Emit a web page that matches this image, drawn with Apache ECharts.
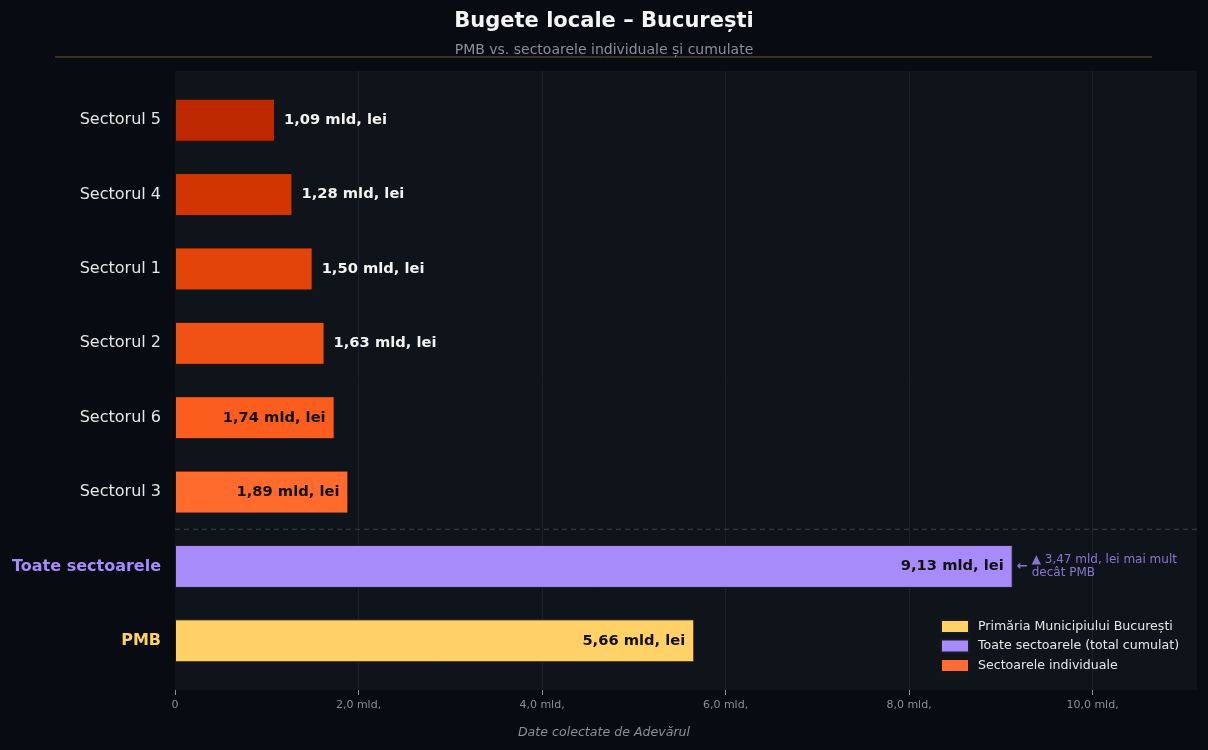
<!DOCTYPE html>
<html>
<head>
<meta charset="utf-8">
<script src="https://cdn.jsdelivr.net/npm/echarts@6/dist/echarts.min.js"></script>
<style>
  html, body { margin: 0; padding: 0; background: #080b11; }
  #chart { width: 1208px; height: 750px; }
</style>
</head>
<body>
<div id="chart"></div>
<script>
// date (mld. lei)
const sectorNames = ['Sectorul 3', 'Sectorul 6', 'Sectorul 2', 'Sectorul 1', 'Sectorul 4', 'Sectorul 5'];
const sectorValues = [1.89, 1.74, 1.63, 1.50, 1.28, 1.09];
const totalLabel = 'Toate sectoarele';
const totalValue = 9.13;
const pmbLabel = 'PMB';
const pmbValue = 5.66;
const xTicks = [0, 2, 4, 6, 8, 10];
const legendNames = ['Primăria Municipiului București', 'Toate sectoarele (total cumulat)', 'Sectoarele individuale'];

// culori
const sectorColors = ['#ff6b2c', '#fb5d1f', '#f05216', '#e3440a', '#d13602', '#be2800'];
const pmbColor = '#ffd166';
const totalColor = '#a78bfa';
const orange = '#ff6b35';
const font = 'DejaVu Sans';

const categories = [pmbLabel, totalLabel].concat(sectorNames);
const xMax = totalValue * 1.22;

function fmt(v) {
    return v.toFixed(2).replace('.', ',') + ' mld, lei';
}

let sectorData = [null, null].concat(sectorValues.map((v, i) => {
    let inside = v >= 1.7;
    return {
        value: v,
        itemStyle: { color: sectorColors[i] },
        label: {
            position: inside ? 'insideRight' : 'right',
            color: inside ? '#111111' : '#f2f2f2'
        }
    };
}));
let totalData = [null, totalValue].concat(sectorNames.map(() => null));
let pmbData = [pmbValue, null].concat(sectorNames.map(() => null));

let chart = echarts.init(document.getElementById('chart'));

let barLabel = {
    show: true,
    position: 'insideRight',
    distance: 9,
    fontFamily: font,
    fontWeight: 'bold',
    fontSize: 14.7,
    color: '#111111',
    formatter: p => fmt(p.value)
};

let option = {
    backgroundColor: '#080b11',
    textStyle: { fontFamily: font },
    title: [{
        text: 'Bugete locale – București',
        left: 'center',
        top: 6,
        textStyle: { color: '#f5f5f5', fontSize: 21, fontWeight: 'bold', fontFamily: font }
    }, {
        text: 'PMB vs. sectoarele individuale și cumulate',
        left: 'center',
        top: 38,
        textStyle: { color: '#8a8f98', fontSize: 14, fontWeight: 'normal', fontFamily: font }
    }, {
        text: 'Date colectate de Adevărul',
        left: 'center',
        top: 721,
        textStyle: { color: '#8a8f98', fontSize: 12.6, fontStyle: 'italic', fontWeight: 'normal', fontFamily: font }
    }],
    legend: {
        orient: 'vertical',
        left: 940,
        top: 619,
        padding: 0,
        itemWidth: 28,
        itemHeight: 13,
        itemGap: 4.5,
        icon: 'rect',
        textStyle: { color: '#e6e6e6', fontSize: 12.6, fontFamily: font, padding: [0, 0, 0, 4] },
        data: [
            { name: legendNames[0], itemStyle: { color: pmbColor } },
            { name: legendNames[1], itemStyle: { color: totalColor } },
            { name: legendNames[2], itemStyle: { color: orange } }
        ]
    },
    grid: [
        { left: 175, right: 11, top: 71, bottom: 60, show: true, backgroundColor: '#0f141b', borderWidth: 0 },
        { left: 175, right: 11, top: 83, bottom: 72 }
    ],
    xAxis: [{
        gridIndex: 0,
        type: 'value',
        min: 0,
        max: xMax,
        interval: 2,
        axisLine: { show: false },
        axisTick: { show: true, length: 5, lineStyle: { color: '#8a8f98' } },
        axisLabel: {
            color: '#8a8f98',
            fontSize: 11,
            margin: 10,
            showMaxLabel: false,
            formatter: v => xTicks.indexOf(v) < 0 ? '' : (v === 0 ? '0' : v.toFixed(1).replace('.', ',') + ' mld,')
        },
        splitLine: { show: true, showMinLine: false, showMaxLine: false, lineStyle: { color: '#1b2029', width: 1 } }
    }, {
        gridIndex: 1,
        type: 'value',
        min: 0,
        max: xMax,
        show: false,
        splitLine: { show: false }
    }],
    yAxis: [{
        gridIndex: 0,
        type: 'value',
        show: false
    }, {
        gridIndex: 1,
        type: 'category',
        data: categories,
        axisLine: { show: false },
        axisTick: { show: false },
        axisLabel: {
            margin: 14,
            fontSize: 16,
            color: '#e6e6e6',
            fontFamily: font,
            formatter: v => v === totalLabel ? '{t|' + v + '}' : (v === pmbLabel ? '{p|' + v + '}' : v),
            rich: {
                t: { color: totalColor, fontWeight: 'bold', fontSize: 16, fontFamily: font },
                p: { color: pmbColor, fontWeight: 'bold', fontSize: 16, fontFamily: font }
            }
        }
    }],
    series: [{
        name: legendNames[0],
        type: 'bar',
        xAxisIndex: 1,
        yAxisIndex: 1,
        stack: 'b',
        barWidth: 43,
        itemStyle: { color: pmbColor, borderColor: '#1a1a14', borderWidth: 1 },
        label: barLabel,
        data: pmbData
    }, {
        name: legendNames[1],
        type: 'bar',
        xAxisIndex: 1,
        yAxisIndex: 1,
        stack: 'b',
        barWidth: 43,
        itemStyle: { color: totalColor, borderColor: '#1a1a24', borderWidth: 1 },
        label: barLabel,
        data: totalData
    }, {
        name: legendNames[2],
        type: 'bar',
        xAxisIndex: 1,
        yAxisIndex: 1,
        stack: 'b',
        barWidth: 43,
        itemStyle: { color: orange, borderColor: '#1a1210', borderWidth: 1 },
        label: barLabel,
        data: sectorData
    }, {
        name: 'diff',
        type: 'scatter',
        xAxisIndex: 1,
        yAxisIndex: 1,
        symbolSize: 0,
        silent: true,
        label: {
            show: true,
            position: 'right',
            distance: 4,
            color: totalColor,
            fontSize: 12,
            lineHeight: 13,
            fontFamily: font,
            formatter: () => '{a|←}{b|▲ ' + (totalValue - pmbValue).toFixed(2).replace('.', ',') + ' mld, lei mai mult}\n{s|}{b|decât PMB}',
            rich: {
                a: { color: totalColor, fontSize: 13, fontWeight: 'bold', width: 15, fontFamily: font, padding: [13, 0, 0, 0] },
                s: { width: 15 },
                b: { color: totalColor, fontSize: 12, lineHeight: 13, fontFamily: font }
            }
        },
        data: [[totalValue, totalLabel]]
    }]
};

chart.setOption(option);

// linie separatoare + linia de sub titlu
let yS3 = chart.convertToPixel({ yAxisIndex: 1 }, sectorNames[0]);
let yTot = chart.convertToPixel({ yAxisIndex: 1 }, totalLabel);
let x0 = chart.convertToPixel({ xAxisIndex: 0 }, 0);
let x1 = chart.convertToPixel({ xAxisIndex: 0 }, xMax);
chart.setOption({
    graphic: [{
        type: 'line',
        shape: { x1: x0, y1: (yS3 + yTot) / 2, x2: x1, y2: (yS3 + yTot) / 2 },
        style: { stroke: '#3d424b', lineWidth: 1, lineDash: [5, 4] },
        z: 1
    }, {
        type: 'line',
        shape: { x1: 55, y1: 57, x2: 1152, y2: 57 },
        style: { stroke: '#66592c', lineWidth: 1 }
    }]
});

window.addEventListener('resize', function () {
    chart.resize();
});
</script>
</body>
</html>
